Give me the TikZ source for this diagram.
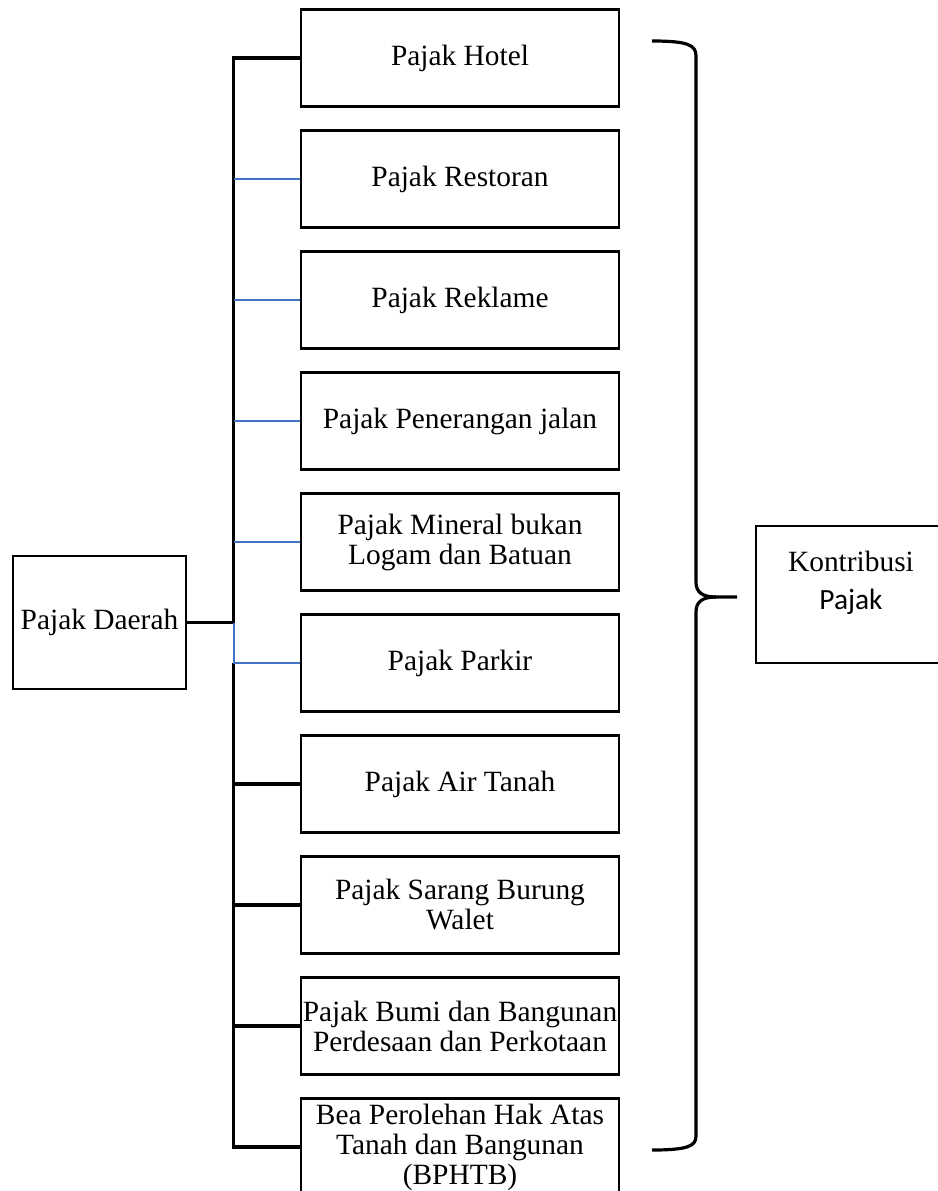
\documentclass[tikz,border=0pt]{standalone}
\usepackage{fontspec}
\setmainfont{Liberation Serif}
\newfontfamily\calibrifont{Carlito}
\usetikzlibrary{positioning}
\definecolor{linkblue}{RGB}{68,114,196}

\begin{document}
\begin{tikzpicture}[x=0.5pt,y=-0.5pt,node distance=60.5pt,on grid,
  font=\fontsize{14.7}{15}\selectfont,
  box/.style={draw,line width=1.1pt,minimum width=159pt,minimum height=48.5pt,inner xsep=0pt,inner ysep=1pt,align=center},
  bus/.style={line width=1.6pt},
  link/.style={draw=linkblue,line width=1pt}]
\useasboundingbox (0,0) rectangle (938,1191);
\clip (0,0) rectangle (938,1191);
\node[box] (hotel) at (460,58) {Pajak Hotel};
\node[box] (restoran) [below=of hotel] {Pajak Restoran};
\node[box] (reklame) [below=of restoran] {Pajak Reklame};
\node[box] (penerangan) [below=of reklame] {Pajak Penerangan jalan};
\node[box] (mineral) [below=of penerangan] {Pajak Mineral bukan\\Logam dan Batuan};
\node[box] (parkir) [below=of mineral] {Pajak Parkir};
\node[box] (air) [below=of parkir] {Pajak Air Tanah};
\node[box] (sarang) [below=of air] {Pajak Sarang Burung\\Walet};
\node[box] (bumi) [below=of sarang] {Pajak Bumi dan Bangunan\\Perdesaan dan Perkotaan};
\node[box] (bea) [below=of bumi] {Bea Perolehan Hak Atas\\Tanah dan Bangunan\\(BPHTB)};
\node[box,minimum width=86.5pt,minimum height=66.5pt] (daerah) at (99.5,622.5) {Pajak Daerah};
\node[box,minimum width=95pt,minimum height=68.5pt] (kontribusi) at (851,594.5) {};
\node[align=center] (kontribtext) at (851,583) {Kontribusi\\[4pt]{\calibrifont Pajak}};
\coordinate (bus) at (233.5,0);
% bus lines
\draw[bus,line width=1.9pt] (daerah.east) -- (daerah.east -| bus);
\draw[bus] (daerah.east -| bus) |- (hotel.west);
\draw[bus] (parkir.west -| bus) |- (bea.west);
\foreach \n in {air,sarang,bumi}
  \draw[bus] (\n.west -| bus) -- (\n.west);
\foreach \n in {restoran,reklame,penerangan,mineral}
  \draw[link] (\n.west -| bus) -- (\n.west);
\draw[link] (daerah.east -| bus) |- (parkir.west);
% brace
\coordinate (brtop) at (652,41);
\coordinate (brtip) at (737,597);
\coordinate (brbot) at (652,1150);
\draw[bus] (brtop) .. controls (688,41) and (696,45) .. (696,56) -- (696,582)
  .. controls (696,592) and (702,597) .. (716,597) -- (brtip);
\draw[bus] (716,597) .. controls (702,597) and (696,602) .. (696,612) -- (696,1136)
  .. controls (696,1146) and (688,1150) .. (brbot);
\end{tikzpicture}
\end{document}
